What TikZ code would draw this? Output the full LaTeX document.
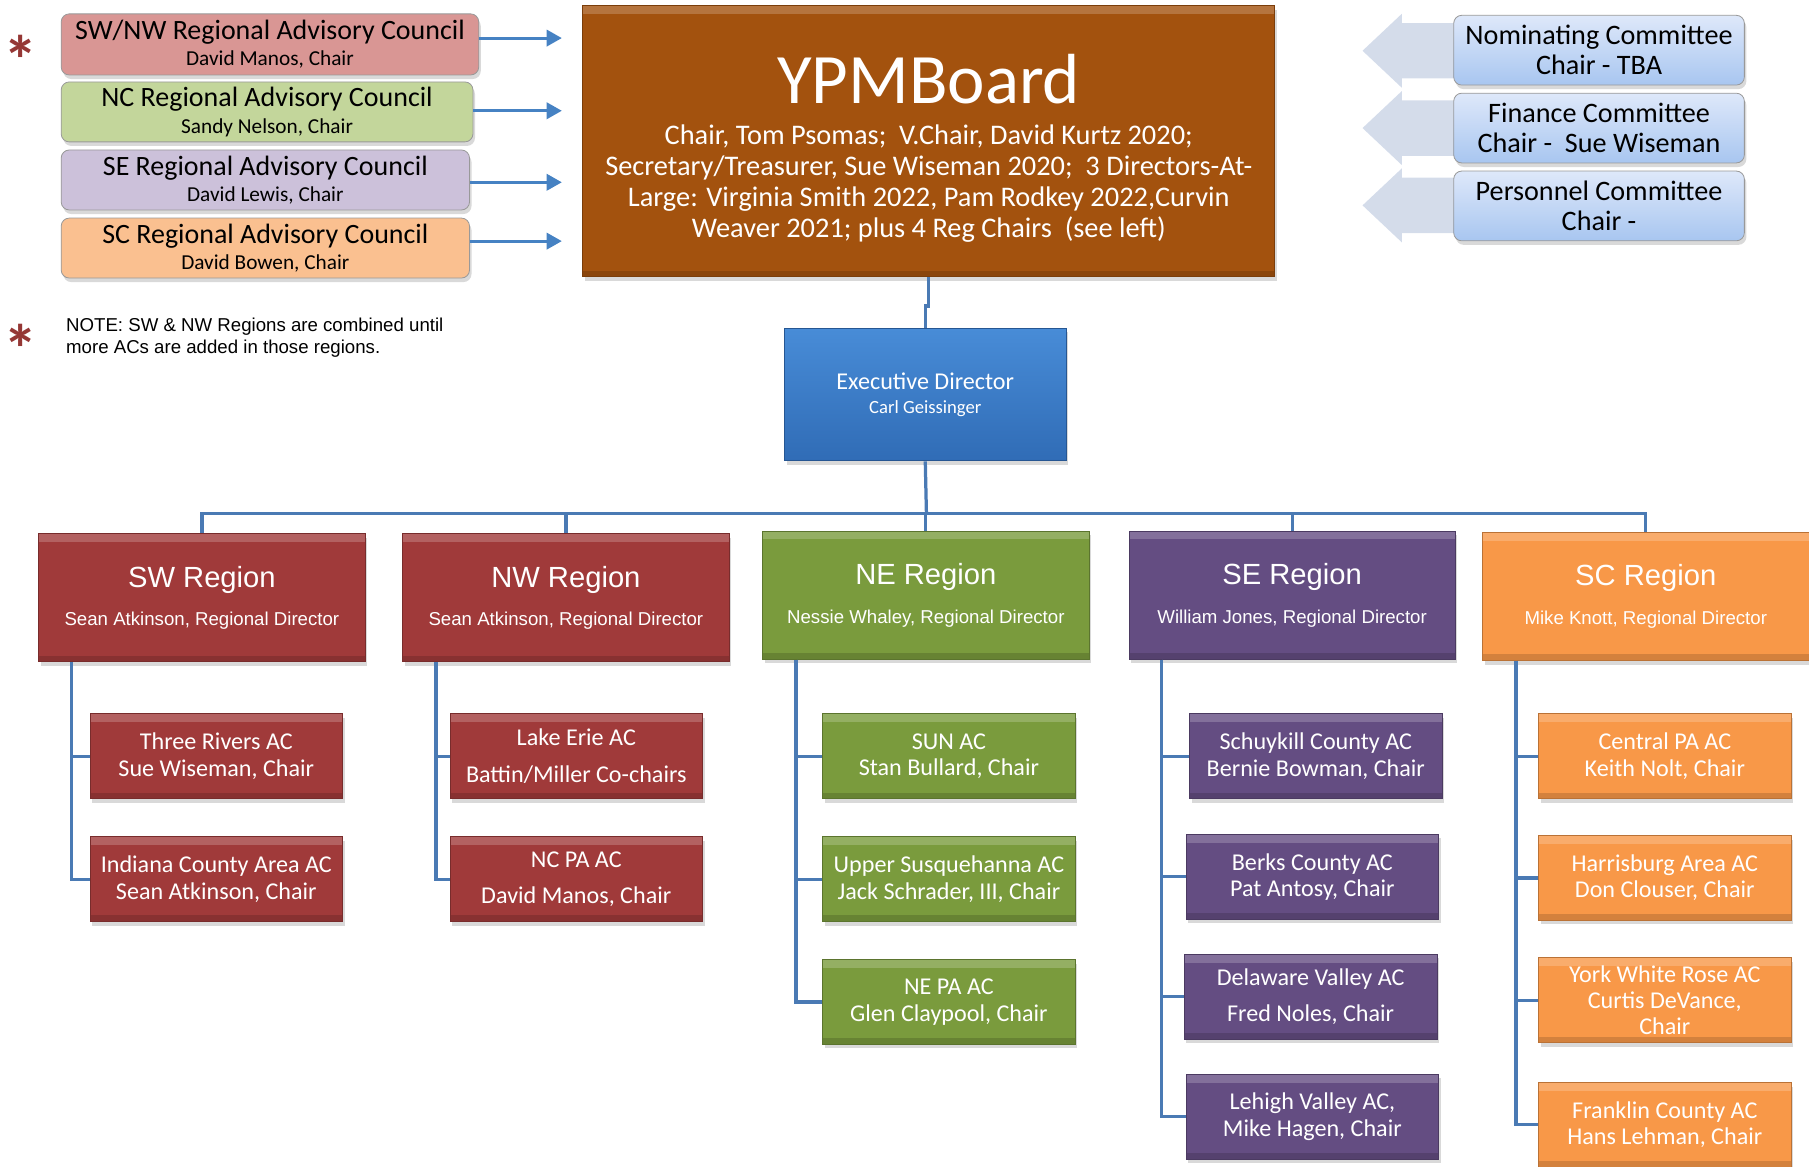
\documentclass[tikz,border=0pt]{standalone}
\usepackage{fontspec}
\setmainfont{Carlito}
\newfontfamily\arialfont{Liberation Sans}
\usetikzlibrary{positioning,shadows,arrows.meta}

\definecolor{cSWNW}{RGB}{217,150,148}
\definecolor{cNC}{RGB}{195,214,155}
\definecolor{cSE}{RGB}{204,193,218}
\definecolor{cSC}{RGB}{250,192,144}
\definecolor{cYPM}{RGB}{163,82,14}
\definecolor{cExecTop}{RGB}{72,140,215}
\definecolor{cExecBot}{RGB}{48,108,182}
\definecolor{cRed}{RGB}{160,58,58}
\definecolor{cGreen}{RGB}{122,155,61}
\definecolor{cPurple}{RGB}{100,77,130}
\definecolor{cOrange}{RGB}{248,152,72}
\definecolor{cLine}{RGB}{74,122,180}
\definecolor{cArrow}{RGB}{70,130,195}
\definecolor{cComTop}{RGB}{222,232,250}
\definecolor{cComBot}{RGB}{168,198,240}
\definecolor{cBigArrow}{RGB}{212,220,234}
\definecolor{cStar}{RGB}{149,55,53}

\begin{document}
\begin{tikzpicture}[x=0.02cm,y=-0.02cm,
  shade/.style={drop shadow={opacity=0.3,shadow xshift=1pt,shadow yshift=-2pt}},
  bevel/.style={path picture={
    \fill[white,opacity=0.2] (path picture bounding box.north west) rectangle ([yshift=-4pt]path picture bounding box.north east);
    \fill[black,opacity=0.15] (path picture bounding box.south west) rectangle ([yshift=3pt]path picture bounding box.south east);}},
  box/.style={draw=#1!75!black, fill=#1, text=white, align=center, inner sep=0pt, shade, bevel},
  council/.style={draw=gray!80, fill=#1, rounded corners=4pt, text=black, align=center, inner sep=0pt,
    font=\fontsize{10.5}{13}\selectfont, shade},
  combox/.style={draw=gray!80, top color=cComTop, bottom color=cComBot, rounded corners=4pt, align=center,
    inner sep=0pt, minimum width=5.04cm, minimum height=1.21cm, font=\fontsize{13.9}{14.8}\selectfont, shade},
  regbox/.style={box=#1, minimum width=5.66cm, minimum height=2.22cm, font=\arialfont\fontsize{14.4}{19}\selectfont},
  acbox/.style={box=#1, minimum width=4.38cm, minimum height=1.47cm, font=\fontsize{11.9}{13}\selectfont},
  conn/.style={draw=cLine, line width=1.6pt},
  carrow/.style={draw=cArrow, line width=1.5pt, -{Triangle[length=7.5pt,width=8pt]}},
  astmark/.style={text=cStar, font=\fontsize{34}{34}\selectfont\bfseries, inner sep=0pt}]
\useasboundingbox (0,0) rectangle (1568,1011);

% Regional advisory councils
\node[council=cSWNW, minimum width=7.24cm, minimum height=1.06cm] (swnw) at (234,38.5)
  {{\fontsize{13.8}{13}\selectfont SW/NW Regional Advisory Council}\\David Manos, Chair};
\node[council=cNC, minimum width=7.14cm, minimum height=1.04cm] (nc) at (231.5,97)
  {{\fontsize{13.8}{13}\selectfont NC Regional Advisory Council}\\Sandy Nelson, Chair};
\node[council=cSE, minimum width=7.08cm, minimum height=1.04cm] (se) at (230,156)
  {{\fontsize{13.8}{13}\selectfont SE Regional Advisory Council}\\David Lewis, Chair};
\node[council=cSC, minimum width=7.08cm, minimum height=1.04cm] (sc) at (230,215)
  {{\fontsize{13.8}{13}\selectfont SC Regional Advisory Council}\\David Bowen, Chair};
\coordinate (arrtip) at (487,0);
\foreach \c/\s in {swnw/0.11,nc/0.02,se/-0.04,sc/0.12}
  \draw[carrow] ([yshift=\s cm]\c.east) -- ([yshift=\s cm]\c.east -| arrtip);

% Note
\node[astmark] (ast1) at (18,52) {*};
\node[astmark] (ast2) at (18,302) {*};
\node[anchor=west, align=left, inner sep=0pt, font=\arialfont\fontsize{9.2}{10.8}\selectfont] (note) at (57,293)
  {NOTE: SW \& NW Regions are combined until\\more ACs are added in those regions.};

% Board
\node[box=cYPM, minimum width=12cm, minimum height=4.7cm, font=\fontsize{14}{15.2}\selectfont] (ypm) at (805,122.5)
  {\rule{0pt}{31pt}{\fontsize{35}{35}\selectfont YPMBoard}\\[5pt]
   Chair, Tom Psomas;\ \ V.Chair, David Kurtz 2020;\\
   Secretary/Treasurer, Sue Wiseman 2020;\ \ 3 Directors-At-\\
   Large: Virginia Smith 2022, Pam Rodkey 2022,Curvin\\
   Weaver 2021; plus 4 Reg Chairs\ \ (see left)};

% Committees
\foreach \yc in {44,111,178}
  \fill[cBigArrow] (1181,\yc) -- (1215,\yc-32) -- (1215,\yc-24) -- (1300,\yc-24)
    -- (1300,\yc+24) -- (1215,\yc+24) -- (1215,\yc+32) -- cycle;
\node[combox] (nom) at (1386,43.5) {Nominating Committee\\Chair - TBA};
\node[combox] (fin) at (1386,111) {Finance Committee\\Chair -\ \ Sue Wiseman};
\node[combox] (pers) at (1386,178.5) {Personnel Committee\\Chair -};

% Executive director
\node[draw=cExecBot!80!black, top color=cExecTop, bottom color=cExecBot, text=white, align=center, inner sep=0pt,
  minimum width=4.88cm, minimum height=2.3cm, font=\fontsize{9.2}{11.8}\selectfont, shade] (exec) at (802,342)
  {{\fontsize{11.9}{11.8}\selectfont Executive Director}\\Carl Geissinger};
\draw[conn] (ypm.south) -- ++(0,25) -| (exec.north);

% Regions
\node[regbox=cRed] (swr) at (175,518) {SW Region\\{\fontsize{9.2}{11}\selectfont Sean Atkinson, Regional Director}};
\node[regbox=cRed] (nwr) at (490.5,518) {NW Region\\{\fontsize{9.2}{11}\selectfont Sean Atkinson, Regional Director}};
\node[regbox=cGreen] (ner) at (802.5,516) {NE Region\\{\fontsize{9.2}{11}\selectfont Nessie Whaley, Regional Director}};
\node[regbox=cPurple] (ser) at (1120,516) {SE Region\\{\fontsize{9.2}{11}\selectfont William Jones, Regional Director}};
\node[regbox=cOrange] (scr) at (1426.5,517) {SC Region\\{\fontsize{9.2}{11}\selectfont Mike Knott, Regional Director}};
\coordinate (bus) at (803,445);
\draw[conn] (exec.south) -- (bus);
\foreach \r in {swr,nwr,ner,ser,scr}
  \draw[conn] (bus) -| (\r.north);

% Area councils
\node[acbox=cRed] (tr) at (187.5,655.5) {Three Rivers AC\\Sue Wiseman, Chair};
\node[acbox=cRed] (ic) at (187.5,762) {Indiana County Area AC\\Sean Atkinson, Chair};
\node[acbox=cRed] (le) at (499.5,655.5) {Lake Erie AC\\[5pt]Battin/Miller Co-chairs};
\node[acbox=cRed] (ncpa) at (499.5,762) {NC PA AC\\[5pt]David Manos, Chair};
\node[acbox=cGreen] (sun) at (822.5,655.5) {SUN AC\\Stan Bullard, Chair};
\node[acbox=cGreen] (us) at (822.5,762) {Upper Susquehanna AC\\Jack Schrader, III, Chair};
\node[acbox=cGreen] (nepa) at (822.5,868.5) {NE PA AC\\Glen Claypool, Chair};
\node[acbox=cPurple] (sch) at (1140.5,655.5) {Schuykill County AC\\Bernie Bowman, Chair};
\node[acbox=cPurple] (brk) at (1137.5,760) {Berks County AC\\Pat Antosy, Chair};
\node[acbox=cPurple] (dv) at (1136,864) {Delaware Valley AC\\[5pt]Fred Noles, Chair};
\node[acbox=cPurple] (lv) at (1137.5,968) {Lehigh Valley AC,\\Mike Hagen, Chair};
\node[acbox=cOrange] (cpa) at (1443,655.5) {Central PA AC\\Keith Nolt, Chair};
\node[acbox=cOrange] (hba) at (1443,761) {Harrisburg Area AC\\Don Clouser, Chair};
\node[acbox=cOrange] (ywr) at (1443,867) {York White Rose AC\\Curtis DeVance,\\Chair};
\node[acbox=cOrange] (fc) at (1443,975) {Franklin County AC\\Hans Lehman, Chair};

% Region buses
\coordinate (swbus) at (62,0);
\coordinate (nwbus) at (378,0);
\coordinate (nebus) at (690,0);
\coordinate (sebus) at (1007,0);
\coordinate (scbus) at (1314,0);
\foreach \c in {tr,ic} \draw[conn] (swr.south -| swbus) |- (\c.west);
\foreach \c in {le,ncpa} \draw[conn] (nwr.south -| nwbus) |- (\c.west);
\foreach \c in {sun,us,nepa} \draw[conn] (ner.south -| nebus) |- (\c.west);
\foreach \c in {sch,brk,dv,lv} \draw[conn] (ser.south -| sebus) |- (\c.west);
\foreach \c in {cpa,hba,ywr,fc} \draw[conn] (scr.south -| scbus) |- (\c.west);
\end{tikzpicture}
\end{document}
